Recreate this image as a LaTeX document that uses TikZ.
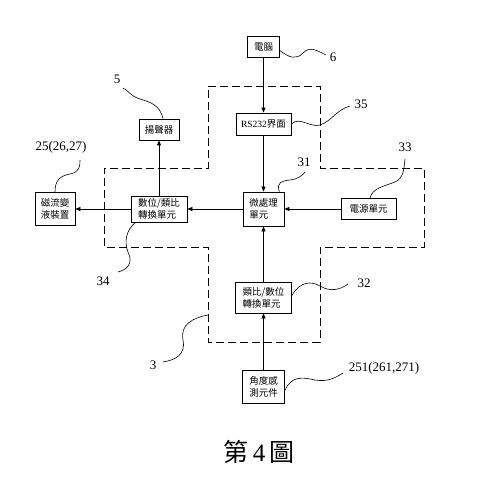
\documentclass[tikz,border=0pt]{standalone}
\usepackage{fontspec}
\setmainfont{Liberation Serif}
\newfontfamily\cjk{Noto Sans CJK TC}
\usetikzlibrary{arrows.meta}
\begin{document}
\begin{tikzpicture}[x=1pt,y=-1pt,
  box/.style={draw, line width=0.8pt, inner sep=0pt, align=left,
    font=\cjk\fontsize{9.5}{12}\selectfont},
  arr/.style={-{Triangle[length=5pt,width=4pt]}, line width=0.7pt},
  lead/.style={line width=0.6pt},
  num/.style={inner sep=0pt, font=\fontsize{13}{13}\selectfont},
  outline/.style={line width=0.6pt, dash pattern=on 8pt off 4pt}]
\useasboundingbox (0,0) rectangle (500,489);

% dashed outline of unit 3
\draw[outline] (208,86) -- (320,86) -- (320,168) -- (424,168) -- (424,247)
  -- (320,247) -- (320,342) -- (208,342) -- (208,247) -- (104,247)
  -- (104,168) -- (208,168) -- cycle;

% boxes
\node[box, minimum width=32, minimum height=21] (pc) at (263.5,46.5) {電腦};
\node[box, minimum width=55, minimum height=22] (rs) at (263.5,124) {{\rmfamily RS232}界面};
\node[box, minimum width=40, minimum height=21] (spk) at (159,129.5) {揚聲器};
\node[box, minimum width=40, minimum height=33] (mr) at (55,209) {磁流變\\液裝置};
\node[box, minimum width=56, minimum height=26] (da) at (159,209) {數位/類比\\轉換單元};
\node[box, minimum width=41, minimum height=34] (cpu) at (263.5,209) {微處理\\單元};
\node[box, minimum width=55, minimum height=21] (pw) at (368.5,209) {電源單元};
\node[box, minimum width=56, minimum height=31] (ad) at (263.5,297.5) {類比/數位\\轉換單元};
\node[box, minimum width=42, minimum height=33] (ang) at (263.5,386.5) {角度感\\測元件};

% arrows
\draw[arr] (pc) -- (rs);
\draw[arr] (rs) -- (cpu);
\draw[arr] (pw) -- (cpu);
\draw[arr] (cpu) -- (da);
\draw[arr] (da) -- (spk);
\draw[arr] (da) -- (mr);
\draw[arr] (ad) -- (cpu);
\draw[arr] (ang) -- (ad);

% reference labels
\node[num] (l6) at (333,57) {6};
\node[num] (l35) at (361,104) {35};
\node[num] (l5) at (117,79) {5};
\node[num] (l25) at (61,147) {25(26,27)};
\node[num] (l33) at (405,147) {33};
\node[num] (l31) at (304,162) {31};
\node[num] (l34) at (103,281) {34};
\node[num] (l32) at (364,283) {32};
\node[num] (l251) at (384,368) {251(261,271)};
\node[num] (l3) at (153,365) {3};

\coordinate (e6) at (326,55);
\coordinate (e35) at (350,106);
\coordinate (e5) at (123,88);
\coordinate (e25) at (80,160);
\coordinate (e33) at (405,159);
\coordinate (e31) at (305,172);
\coordinate (e34) at (118,272);
\coordinate (e32) at (348,284);
\coordinate (e251) at (343,373);
\coordinate (e3) at (163,362);

% leaders
\draw[lead] ([yshift=-4pt]pc.east) .. controls (290,58) and (296,60) .. (303,53)
  .. controls (310,46) and (316,50) .. (e6);
\draw[lead] (rs.east) .. controls (300,116) and (310,128) .. (320,125)
  .. controls (332,121) and (336,110) .. (e35);
\draw[lead] ([xshift=4pt]spk.north) .. controls (160,105) and (150,102) .. (140,99)
  .. controls (130,96) and (128,90) .. (e5);
\draw[lead] (mr.north) .. controls (55,180) and (60,176) .. (70,174)
  .. controls (80,172) and (80,166) .. (e25);
\draw[lead] ([xshift=1.5pt]pw.north) .. controls (372,188) and (385,186) .. (395,182)
  .. controls (404,178) and (404,168) .. (e33);
\draw[lead] ([xshift=-5pt]cpu.north east) .. controls (276,182) and (282,181) .. (290,180)
  .. controls (298,179) and (302,176) .. (e31);
\draw[lead] ([xshift=5pt]da.south west) .. controls (126,230) and (124,242) .. (128,252)
  .. controls (134,264) and (126,270) .. (e34);
\draw[lead] ([yshift=2pt]ad.east) .. controls (300,281) and (312,281) .. (320,286)
  .. controls (330,292) and (340,290) .. (e32);
\draw[lead] ([yshift=-4pt]ang.east) .. controls (292,374) and (305,378) .. (315,380)
  .. controls (328,382) and (335,378) .. (e251);
\draw[lead] (208,315) .. controls (192,318) and (180,325) .. (183,340)
  .. controls (186,355) and (175,360) .. (e3);

% caption
\node[inner sep=0pt, font=\fontsize{25}{25}\selectfont] (title) at (259,452)
  {{\cjk 第}\,4\,{\cjk 圖}};
\end{tikzpicture}
\end{document}
